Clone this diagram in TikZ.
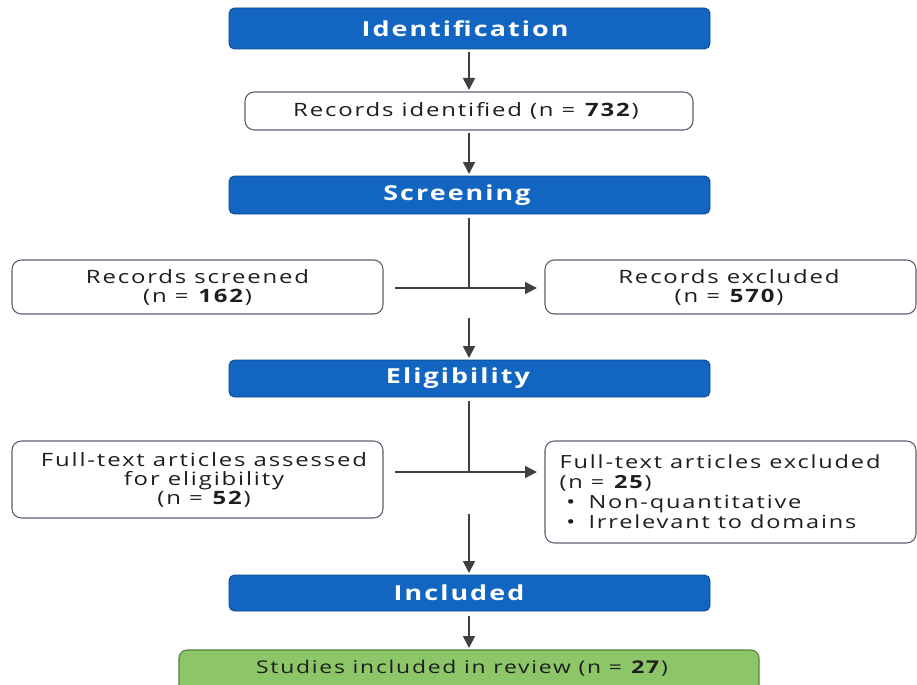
\documentclass[tikz,border=0pt]{standalone}
\usepackage{fontspec}
\setmainfont{Open Sans}[FakeStretch=1.3,LetterSpace=10]
\usetikzlibrary{arrows.meta}
\definecolor{hdrblue}{RGB}{18,102,194}
\definecolor{hdredge}{RGB}{14,70,140}
\definecolor{boxedge}{RGB}{88,96,110}
\definecolor{arrowgray}{RGB}{64,64,64}
\definecolor{grn}{RGB}{140,198,104}
\definecolor{grnedge}{RGB}{82,130,62}
\definecolor{txt}{RGB}{30,30,30}
\newcommand{\blt}{\hspace*{5pt}\textbullet\hspace{10pt}}
\begin{document}
\begin{tikzpicture}[x=0.75pt,y=-0.75pt,
  hdr/.style={draw=hdredge,fill=hdrblue,rounded corners=4pt,line width=0.6pt},
  hdrtext/.style={text=white,font=\fontsize{15.5}{17}\selectfont\bfseries},
  wbox/.style={draw=boxedge,fill=white,rounded corners=7pt,line width=0.8pt},
  gbox/.style={draw=grnedge,fill=grn,rounded corners=6pt,line width=0.8pt},
  btext/.style={text=txt,font=\fontsize{13.8}{14.5}\selectfont,align=center},
  conn/.style={draw=arrowgray,line width=1.3pt},
  arr/.style={conn,-{Triangle[length=9pt,width=9pt]}}]
\useasboundingbox (0,0) rectangle (917,685);
% headers
\path[hdr] (229,8) rectangle (710,49);
\node[hdrtext] (hid) at (465,28.5) {Identification};
\path[hdr] (229,176) rectangle (710,214);
\node[hdrtext] (hsc) at (457,195) {Screening};
\path[hdr] (229,360) rectangle (710,397);
\node[hdrtext] (hel) at (458,378.5) {Eligibility};
\path[hdr] (229,575) rectangle (710,611);
\node[hdrtext] (hin) at (459,593) {Included};
% white boxes
\path[wbox] (245,92) rectangle (693,130);
\node[btext] (rid) at (466,111) {Records identified (n = \textbf{732})};
\path[wbox] (12,260) rectangle (383,314);
\node[btext] (rsc) at (197.5,287.5) {Records screened\\(n = \textbf{162})};
\path[wbox] (545,260) rectangle (916,314);
\node[btext] (rex) at (729,287.5) {Records excluded\\(n = \textbf{570})};
\path[wbox] (12,441) rectangle (383,518);
\node[btext] (fta) at (204,480) {Full-text articles assessed\\for eligibility\\(n = \textbf{52})};
\path[wbox] (545,441) rectangle (916,543);
\node[btext,align=left,anchor=north west,font=\fontsize{13.6}{15}\selectfont] (fte) at (555,450) {Full-text articles excluded\\ (n = \textbf{25})\\ \blt Non-quantitative\\ \blt Irrelevant to domains};
% green
\path[gbox] (179,650) rectangle (759,700);
\node[btext,font=\fontsize{13.2}{14.5}\selectfont] (sir) at (462,668) {Studies included in review (n = \textbf{27})};
% coordinates
\coordinate (a1s) at (469,52); \coordinate (a1e) at (469,90);
\coordinate (a2s) at (469,133); \coordinate (a2e) at (469,174);
\coordinate (v1s) at (469,218); \coordinate (v1e) at (469,288);
\coordinate (h1s) at (395,288); \coordinate (h1e) at (537,288);
\coordinate (a3s) at (469,318); \coordinate (a3e) at (469,358);
\coordinate (v2s) at (469,401); \coordinate (v2e) at (469,472);
\coordinate (h2s) at (395,472); \coordinate (h2e) at (537,472);
\coordinate (a4s) at (469,514); \coordinate (a4e) at (469,573);
\coordinate (a5s) at (469,616); \coordinate (a5e) at (469,648);
\draw[arr] (a1s) -- (a1e);
\draw[arr] (a2s) -- (a2e);
\draw[conn] (v1s) -- (v1e);
\draw[arr] (h1s) -- (h1e);
\draw[arr] (a3s) -- (a3e);
\draw[conn] (v2s) -- (v2e);
\draw[arr] (h2s) -- (h2e);
\draw[arr] (a4s) -- (a4e);
\draw[arr] (a5s) -- (a5e);
\end{tikzpicture}
\end{document}
